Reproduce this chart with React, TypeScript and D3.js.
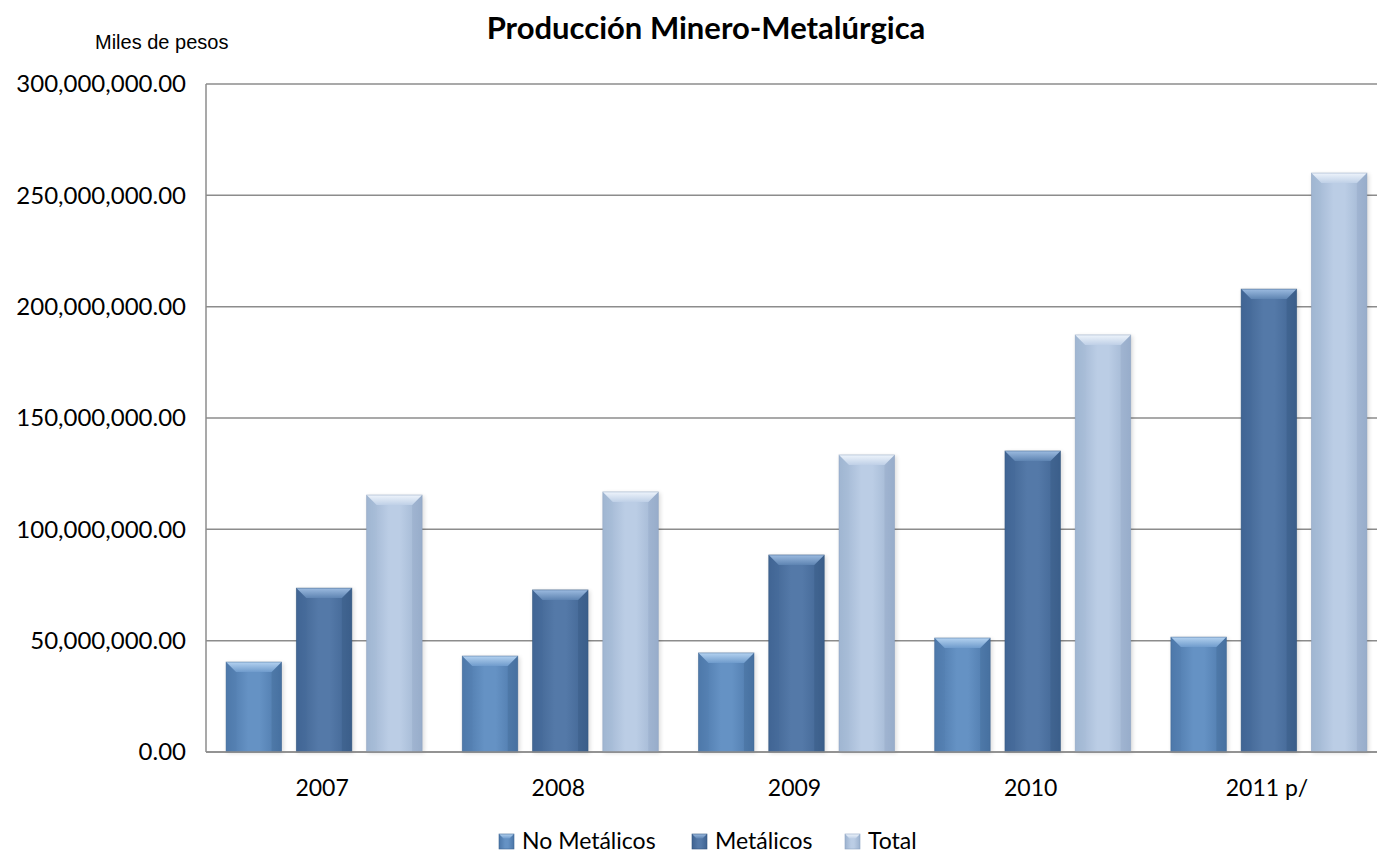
import React from "react";
import * as d3 from "d3";

const categories = ["2007", "2008", "2009", "2010", "2011 p/"];
const seriesNames = ["No Metálicos", "Metálicos", "Total"];
const noMetalicos = [40400000, 43100000, 44500000, 51200000, 51600000];
const metalicos = [73600000, 72800000, 88500000, 135200000, 207900000];
const total = [115400000, 116800000, 133400000, 187300000, 260000000];
const yTicks = [0, 50000000, 100000000, 150000000, 200000000, 250000000, 300000000];

const W = 1377;
const H = 854;
const plotLeft = 206;
const plotRight = 1387;
const plotTop = 84;
const plotBottom = 752;

const palettes = [
  { edge: "#4b76a8", mid: "#6592c4", top1: "#b4d2f0", top2: "#6f9bcc", side: "#527eb0", line: "#3f6693" },
  { edge: "#3f6391", mid: "#5479a8", top1: "#9cbbe0", top2: "#5e84b2", side: "#44699a", line: "#34567f" },
  { edge: "#9cb2cf", mid: "#bbcde5", top1: "#eef4fb", top2: "#bfd0e7", side: "#a7bcd8", line: "#8ea4c2" },
];

function Bar({ x, y, w, h, i }: any) {
  const b = Math.min(10, h / 2);
  const p = palettes[i];
  return (
    <g>
      <rect x={x + 1} y={y + 1} width={w + 1} height={h} fill="#000" opacity={0.14} filter="url(#blur)" />
      <rect x={x} y={y} width={w} height={h} fill={`url(#body${i})`} />
      <polygon
        points={`${x},${y} ${x + b},${y + b} ${x + b},${y + h} ${x},${y + h}`}
        fill={p.side}
        opacity={0.35}
      />
      <polygon
        points={`${x + w},${y} ${x + w - b},${y + b} ${x + w - b},${y + h} ${x + w},${y + h}`}
        fill={p.line}
        opacity={0.35}
      />
      <polygon
        points={`${x},${y} ${x + w},${y} ${x + w - b},${y + b} ${x + b},${y + b}`}
        fill={`url(#top${i})`}
      />
      <rect x={x} y={y} width={w} height={h} fill="none" stroke={p.line} strokeWidth={0.8} opacity={0.6} />
    </g>
  );
}

export default function App() {
  const seriesData = [noMetalicos, metalicos, total];
  const x0 = d3.scaleBand<string>().domain(categories).range([plotLeft, plotRight]).padding(0);
  const bw = x0.bandwidth();
  const x1 = d3
    .scaleBand<string>()
    .domain(seriesNames)
    .range([bw * 0.085, bw * 0.915])
    .paddingInner(0.21);
  const y = d3.scaleLinear().domain([0, 300000000]).range([plotBottom, plotTop]);
  const fmt = d3.format(",.2f");

  const legendX = [499, 692, 845];
  const ly = 834;

  return (
    <svg width={W} height={H} style={{ position: "absolute", left: 0, top: 0, background: "#fff" }}>
      <defs>
        <filter id="blur" x="-20%" y="-20%" width="140%" height="140%">
          <feGaussianBlur stdDeviation="2" />
        </filter>
        {palettes.map((p, i) => (
          <React.Fragment key={i}>
            <linearGradient id={`body${i}`} x1="0" x2="1" y1="0" y2="0">
              <stop offset="0" stopColor={p.edge} />
              <stop offset="0.4" stopColor={p.mid} />
              <stop offset="0.6" stopColor={p.mid} />
              <stop offset="1" stopColor={p.edge} />
            </linearGradient>
            <linearGradient id={`top${i}`} x1="0" x2="0" y1="0" y2="1">
              <stop offset="0" stopColor={p.top1} />
              <stop offset="1" stopColor={p.top2} />
            </linearGradient>
          </React.Fragment>
        ))}
      </defs>

      <text x={706} y={39} textAnchor="middle" fontFamily="Lato" fontWeight="bold" fontSize={31} fill="#000">
        Producción Minero-Metalúrgica
      </text>
      <text x={95} y={49} fontFamily="Liberation Sans" fontSize={20} fill="#000">
        Miles de pesos
      </text>

      {yTicks.map((t) => (
        <g key={t}>
          <line x1={plotLeft} x2={W} y1={y(t)} y2={y(t)} stroke="#8c8c8c" strokeWidth={1.5} />
          <text
            x={186}
            y={y(t)}
            dy="0.35em"
            textAnchor="end"
            fontFamily="Lato"
            fontSize={24}
            fill="#000"
          >
            {fmt(t)}
          </text>
        </g>
      ))}
      <line x1={plotLeft} x2={plotLeft} y1={plotTop} y2={plotBottom} stroke="#8c8c8c" strokeWidth={1.5} />

      {categories.map((c, ci) => (
        <g key={c}>
          {seriesNames.map((s, si) => {
            const v = seriesData[si][ci];
            const bx = (x0(c) as number) + (x1(s) as number);
            const by = y(v);
            return <Bar key={s} x={bx} y={by} w={x1.bandwidth()} h={plotBottom - by} i={si} />;
          })}
          <text
            x={(x0(c) as number) + bw / 2 - 2}
            y={796}
            textAnchor="middle"
            fontFamily="Lato"
            fontSize={23}
            fill="#000"
          >
            {c}
          </text>
        </g>
      ))}
      <line x1={plotLeft} x2={W} y1={plotBottom} y2={plotBottom} stroke="#8c8c8c" strokeWidth={1.5} />

      {seriesNames.map((s, i) => (
        <g key={s}>
          <rect x={legendX[i]} y={ly} width={15} height={15} fill={`url(#body${i})`} />
          <polygon
            points={`${legendX[i]},${ly} ${legendX[i] + 15},${ly} ${legendX[i] + 10.5},${ly + 4.5} ${legendX[i] + 4.5},${ly + 4.5}`}
            fill={`url(#top${i})`}
          />
          <rect x={legendX[i]} y={ly} width={15} height={15} fill="none" stroke={palettes[i].line} strokeWidth={0.6} />
          <text x={legendX[i] + 23} y={ly + 15} fontFamily="Lato" fontSize={23} fill="#000">
            {s}
          </text>
        </g>
      ))}
    </svg>
  );
}
